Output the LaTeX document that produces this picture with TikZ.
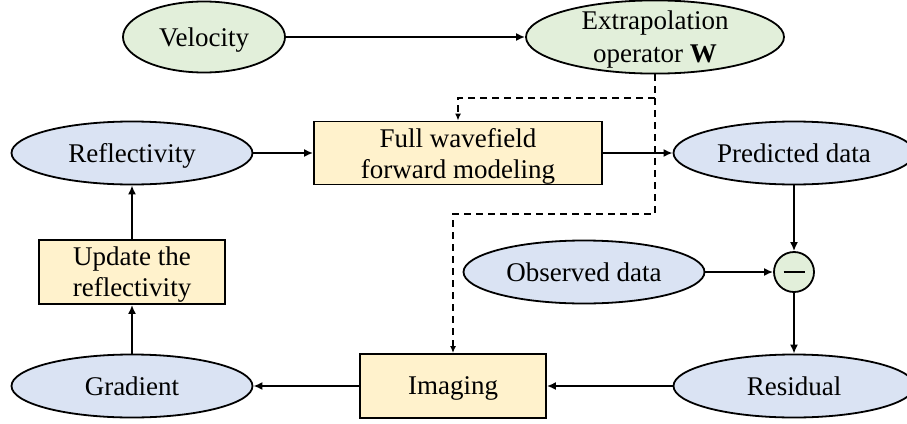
\documentclass[tikz,border=0pt]{standalone}
\usepackage{fontspec}
\setmainfont{Liberation Serif}
\usetikzlibrary{shapes.geometric,arrows.meta}

\definecolor{velgreen}{HTML}{E2EFDA}
\definecolor{datablue}{HTML}{DAE3F3}
\definecolor{procyellow}{HTML}{FFF2CC}

\tikzset{
  base/.style={draw=black, line width=1.8pt, inner sep=0pt, align=center, text depth=0pt,
    font=\fontsize{27}{31}\selectfont},
  greenell/.style={base, ellipse, fill=velgreen, minimum width=162pt, minimum height=71pt},
  blueell/.style={base, ellipse, fill=datablue, minimum width=241pt, minimum height=63pt},
  procbox/.style={base, rectangle, fill=procyellow},
  flow/.style={line width=2pt, -{Latex[length=9pt,width=8pt]}},
  ctrl/.style={line width=1.7pt, dash pattern=on 7pt off 5pt, -{Latex[length=7pt,width=6pt]}},
}

\begin{document}
\begin{tikzpicture}[x=1pt, y=-1pt]
  \useasboundingbox (0,0) rectangle (907,423);

  % top row: velocity and the extrapolation operator
  \node[greenell] (vel) at (204,37) {Velocity};
  \node[greenell, minimum width=258pt, minimum height=72pt,
        font=\fontsize{27}{33}\selectfont] (ext) at (655,37) {Extrapolation\\operator \textbf{W}};

  % forward modeling row
  \node[blueell] (refl) at (132,153) {Reflectivity};
  \node[procbox, minimum width=288pt, minimum height=63pt] (fwd) at (458,153) {Full wavefield\\forward modeling};
  \node[blueell] (pred) at (794,153) {Predicted data};

  % residual computation
  \node[procbox, minimum width=186pt, minimum height=64pt] (upd) at (132,272) {Update the\\reflectivity};
  \node[blueell] (obs) at (584,272) {Observed data};
  \node[base, circle, fill=velgreen, minimum size=40pt] (minus) at (794,272) {};
  \draw[line width=2.2pt] ([xshift=-10.5pt]minus.center) -- ([xshift=10.5pt]minus.center);

  % bottom row: imaging and gradient
  \node[blueell] (grad) at (132,386) {Gradient};
  \node[procbox, minimum width=186pt, minimum height=64pt] (img) at (453,386) {Imaging};
  \node[blueell] (res) at (794,386) {Residual};

  % main flow
  \draw[flow] (vel) -- (ext);
  \draw[flow] (refl) -- (fwd);
  \draw[flow] (fwd) -- (pred);
  \draw[flow] (pred.south -| minus.north) -- (minus.north);
  \draw[flow] (obs) -- (minus);
  \draw[flow] (minus.south) -- (res.north -| minus.south);
  \draw[flow] (res) -- (img);
  \draw[flow] (img) -- (grad);
  \draw[flow] (grad) -- (upd);
  \draw[flow] (upd) -- (refl);

  % the operator W feeds both modeling and imaging
  \coordinate (wsplit) at (ext.south |- 0,98);
  \coordinate (wturn) at (ext.south |- 0,214);
  \draw[ctrl] (ext.south) -- (wturn) -- (wturn -| img.north) -- (img.north);
  \draw[ctrl] (wsplit) -- (wsplit -| fwd.north) -- (fwd.north);
\end{tikzpicture}
\end{document}
